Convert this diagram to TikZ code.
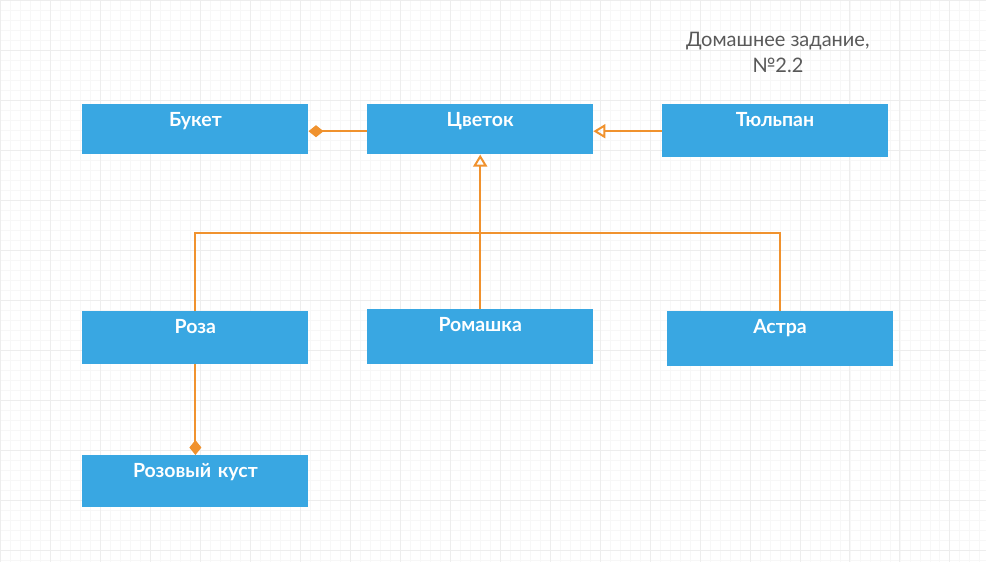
\documentclass[tikz,border=0pt]{standalone}
\usepackage{fontspec}
\setmainfont{Lato}
\usetikzlibrary{arrows.meta}
\definecolor{boxblue}{HTML}{39A7E2}
\definecolor{lineorange}{HTML}{F0922E}
\definecolor{titlegray}{HTML}{595959}
\definecolor{gridminor}{HTML}{F7F7F7}
\definecolor{gridmajor}{HTML}{EDEDED}
\begin{document}
\begin{tikzpicture}[x=1pt,y=-1pt,
  classbox/.style={rectangle, fill=boxblue, minimum width=226pt, inner sep=0pt,
    anchor=north west, text=white, font=\fontsize{19.5}{22}\selectfont\bfseries,
    text width=226pt, align=center, text height=22pt},
  conn/.style={draw=lineorange, line width=2pt},
  diam/.style={-{Diamond[width=12pt,length=15pt,fill=lineorange]}},
  gen/.style={-{Triangle[open,width=14pt,length=12pt,line width=2pt]}}]
\fill[white] (0,0) rectangle (986,562);
\draw[gridminor, line width=0.5pt] (0,0) grid[step=10pt] (986,562);
\draw[gridmajor, line width=0.6pt] (0,0) grid[step=50pt] (986,562);
\useasboundingbox (0,0) rectangle (986,562);

\node[classbox, text depth=28pt] (buket) at (82,104) {Букет};
\node[classbox, text depth=28pt] (cvetok) at (367,104) {Цветок};
\node[classbox, text depth=31pt] (tulpan) at (662,104) {Тюльпан};
\node[classbox, text depth=31pt] (roza) at (82,311) {Роза};
\node[classbox, text depth=33pt] (romashka) at (367,309) {Ромашка};
\node[classbox, text depth=33pt] (astra) at (667,311) {Астра};
\node[classbox, text depth=30pt] (kust) at (82,455) {Розовый куст};

\node[text=titlegray, font=\fontsize{20}{26}\selectfont, align=center] (title) at (778,52)
  {Домашнее задание,\\№2.2};

\coordinate (bus) at (0,233);
\coordinate (hline) at (0,131);

\draw[conn, diam] (cvetok.west |- hline) -- (buket.east |- hline);
\draw[conn, gen] (tulpan.west |- hline) -- (cvetok.east |- hline);
\draw[conn] (roza.north) -- (roza.north |- bus) -- (astra.north |- bus) -- (astra.north);
\draw[conn, gen] (romashka.north) -- (cvetok.south);
\draw[conn, diam] (roza.south) -- (kust.north);
\end{tikzpicture}
\end{document}
